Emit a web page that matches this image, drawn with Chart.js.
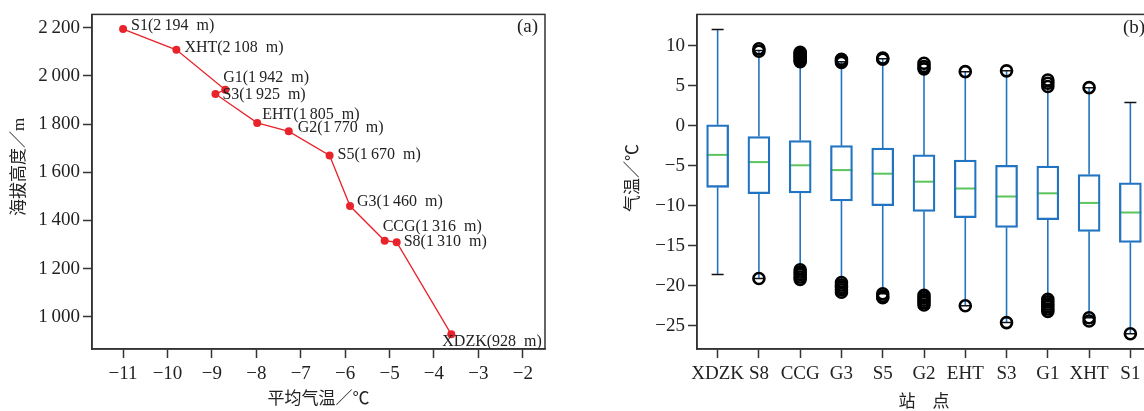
<!DOCTYPE html>
<html lang="zh">
<head>
<meta charset="utf-8">
<title>平均气温与海拔 / 各站点气温箱线图</title>
<script src="https://cdn.jsdelivr.net/npm/chart.js@4.4.1/dist/chart.umd.min.js"></script>
<style>
  html, body { margin: 0; padding: 0; background: #fff; overflow: hidden; }
  #wrap { position: relative; width: 1144px; height: 411px; overflow: hidden; }
  #chartA { position: absolute; left: 0; top: 0; width: 560px; height: 411px; }
  #chartB { position: absolute; left: 600px; top: 0; width: 560px; height: 411px; }
</style>
</head>
<body>
<div id="wrap">
  <canvas id="chartA" width="560" height="411"></canvas>
  <canvas id="chartB" width="560" height="411"></canvas>
</div>
<script>
// (a) mean temperature vs altitude
const stationsA = ['S1', 'XHT', 'G1', 'S3', 'EHT', 'G2', 'S5', 'G3', 'CCG', 'S8', 'XDZK'];
const meanTemp = [-11.0, -9.8, -8.7, -8.92, -7.98, -7.27, -6.35, -5.89, -5.11, -4.84, -3.61];
const altitude = [2194, 2108, 1942, 1925, 1805, 1770, 1670, 1460, 1316, 1310, 928];
const xTicksA = [-11, -10, -9, -8, -7, -6, -5, -4, -3, -2];
const yTicksA = [1000, 1200, 1400, 1600, 1800, 2000, 2200];

// (b) temperature box plots per station
const stationsB = ['XDZK', 'S8', 'CCG', 'G3', 'S5', 'G2', 'EHT', 'S3', 'G1', 'XHT', 'S1'];
const q1 = [-7.7, -8.5, -8.4, -9.4, -10.0, -10.7, -11.5, -12.7, -11.75, -13.2, -14.6];
const median = [-3.65, -4.55, -4.95, -5.55, -6.0, -7.0, -7.85, -8.85, -8.45, -9.65, -10.85];
const q3 = [0.1, -1.35, -1.85, -2.5, -2.8, -3.65, -4.3, -4.95, -5.05, -6.1, -7.15];
const whiskerHigh = [12.0, 9.4, 8.0, 8.0, 8.35, 7.1, 6.75, 6.85, 4.9, 4.75, 2.9];
const whiskerLow = [-18.6, -19.1, -17.9, -19.6, -21.0, -21.1, -22.5, -24.6, -21.6, -24.0, -26.0];
const outliersHigh = [
  [], [9.3, 9.6], [8.0, 8.2, 8.4, 8.6, 8.8, 9.0, 9.15], [7.9, 8.1, 8.3], [8.3, 8.45],
  [7.1, 7.4, 7.8], [6.75], [6.85], [4.9, 5.3, 5.7], [4.75], []
];
const outliersLow = [
  [], [-19.1], [-18.0, -18.3, -18.6, -18.9, -19.2], [-19.6, -19.9, -20.2, -20.5, -20.8], [-21.0, -21.3, -21.5],
  [-21.2, -21.5, -21.8, -22.1, -22.4], [-22.5], [-24.6], [-21.7, -22.0, -22.3, -22.6, -22.9, -23.2],
  [-24.0, -24.4], [-26.0]
];
const yTicksB = [-25, -20, -15, -10, -5, 0, 5, 10];

const serif = '"Liberation Serif", "Noto Sans CJK SC", serif';
const cjk = '"Liberation Serif", "Noto Sans CJK SC", sans-serif';
const axisColor = '#333';
const textColor = '#222';

function fmt(v) {
  const s = Math.abs(v).toString().replace(/\B(?=(\d{3})+(?!\d))/g, '\u2009');
  return (v < 0 ? '\u2212' : '') + s;
}

function axisTitle(ctx, text, x, y, rotate) {
  ctx.save();
  ctx.translate(x, y);
  if (rotate) ctx.rotate(-Math.PI / 2);
  ctx.font = '17px ' + cjk;
  ctx.fillStyle = textColor;
  ctx.textAlign = 'center';
  ctx.textBaseline = 'middle';
  ctx.fillText(text, 0, 0);
  ctx.restore();
}

function baseScale(ticksArr, fixedSize, horizontal) {
  return {
    afterBuildTicks: s => { s.ticks = ticksArr.map(v => ({ value: v })); },
    afterFit: s => { if (horizontal) s.height = fixedSize; else s.width = fixedSize; },
    grid: { drawOnChartArea: false, drawTicks: true, tickLength: 9, tickColor: axisColor, tickWidth: 1.5 },
    border: { color: axisColor, width: 1.5 },
    ticks: {
      font: { family: serif, size: 19 },
      color: textColor,
      padding: horizontal ? 5 : 3,
      maxRotation: 0,
      autoSkip: false,
      callback: v => fmt(v)
    }
  };
}

// label offsets next to each point in (a)
const labelOffsets = [[8, -3], [8, -2], [-2, -12], [7, 1], [5, -8], [9, -4], [8, -1], [7, -4], [-2, -14], [7, 0], [-9, 8]];

const pointLabels = {
  id: 'pointLabels',
  afterDatasetsDraw(chart) {
    const ctx = chart.ctx;
    const meta = chart.getDatasetMeta(0);
    ctx.save();
    ctx.font = '16px ' + serif;
    ctx.fillStyle = textColor;
    ctx.textBaseline = 'middle';
    meta.data.forEach((pt, i) => {
      const [dx, dy] = labelOffsets[i];
      ctx.fillText(`${stationsA[i]}(${fmt(altitude[i])}\u2002m)`, pt.x + dx, pt.y + dy);
    });
    ctx.restore();
  }
};

const frameA = {
  id: 'frameA',
  afterDraw(chart) {
    const { ctx, chartArea: a } = chart;
    ctx.save();
    ctx.strokeStyle = axisColor;
    ctx.lineWidth = 1.5;
    ctx.strokeRect(a.left, a.top, a.right - a.left, a.bottom - a.top);
    ctx.font = '19px ' + serif;
    ctx.fillStyle = textColor;
    ctx.textAlign = 'right';
    ctx.textBaseline = 'middle';
    ctx.fillText('(a)', a.right - 7, a.top + 13);
    ctx.restore();
    axisTitle(ctx, '平均气温／℃', (a.left + a.right) / 2, 400, false);
    axisTitle(ctx, '海拔高度／m', 20, 167, true);
  }
};

new Chart(document.getElementById('chartA'), {
  type: 'scatter',
  data: {
    datasets: [{
      data: altitude.map((h, i) => ({ x: meanTemp[i], y: h })),
      showLine: true,
      borderColor: '#e8232a',
      borderWidth: 1.3,
      pointRadius: 4,
      pointBackgroundColor: '#e8232a',
      pointBorderWidth: 0
    }]
  },
  options: {
    responsive: false,
    animation: false,
    devicePixelRatio: 1,
    layout: { padding: { left: 0, top: 13, right: 15, bottom: 0 } },
    plugins: { legend: { display: false }, tooltip: { enabled: false } },
    scales: {
      x: Object.assign(baseScale(xTicksA, 62, true), { type: 'linear', min: -11.7, max: -1.5 }),
      y: Object.assign(baseScale(yTicksA, 92, false), { type: 'linear', min: 867, max: 2255 })
    }
  },
  plugins: [pointLabels, frameA]
});

// whiskers, caps and medians for (b)
const boxParts = {
  id: 'boxParts',
  beforeDatasetsDraw(chart) {
    const { ctx, scales: { x, y } } = chart;
    const half = 11;
    const capHalf = 6;
    ctx.save();
    stationsB.forEach((s, i) => {
      const cx = x.getPixelForValue(i);
      ctx.strokeStyle = '#2274c2';
      ctx.lineWidth = 1.6;
      ctx.beginPath();
      ctx.moveTo(cx, y.getPixelForValue(q3[i]));
      ctx.lineTo(cx, y.getPixelForValue(whiskerHigh[i]));
      ctx.moveTo(cx, y.getPixelForValue(q1[i]));
      ctx.lineTo(cx, y.getPixelForValue(whiskerLow[i]));
      ctx.stroke();

      ctx.strokeStyle = '#111';
      ctx.lineWidth = 1.5;
      ctx.beginPath();
      [whiskerHigh[i], whiskerLow[i]].forEach(v => {
        const py = y.getPixelForValue(v);
        ctx.moveTo(cx - capHalf, py);
        ctx.lineTo(cx + capHalf, py);
      });
      ctx.stroke();

      ctx.strokeStyle = '#5cc45c';
      ctx.lineWidth = 2;
      ctx.beginPath();
      const my = y.getPixelForValue(median[i]);
      ctx.moveTo(cx - half, my);
      ctx.lineTo(cx + half, my);
      ctx.stroke();
    });
    ctx.restore();
  }
};

const frameB = {
  id: 'frameB',
  afterDraw(chart) {
    const { ctx, chartArea: a } = chart;
    ctx.save();
    ctx.strokeStyle = axisColor;
    ctx.lineWidth = 1.5;
    ctx.strokeRect(a.left, a.top, a.right - a.left, a.bottom - a.top);
    ctx.font = '19px ' + serif;
    ctx.fillStyle = textColor;
    ctx.textAlign = 'left';
    ctx.textBaseline = 'middle';
    ctx.fillText('(b)', a.right - 28, a.top + 14);
    ctx.restore();
    axisTitle(ctx, '站\u3000点', (a.left + a.right) / 2, 403, false);
    axisTitle(ctx, '气温／℃', 34, 178, true);
  }
};

const outlierPoints = stationsB.flatMap((s, i) =>
  outliersHigh[i].concat(outliersLow[i]).map(v => ({ x: s, y: v })));

const xB = baseScale([], 62, true);
delete xB.afterBuildTicks;
xB.grid.offset = false;
xB.ticks.callback = function (v) { return this.getLabelForValue(v); };

new Chart(document.getElementById('chartB'), {
  type: 'bar',
  data: {
    labels: stationsB,
    datasets: [
      {
        type: 'bar',
        data: stationsB.map((s, i) => [q1[i], q3[i]]),
        backgroundColor: 'rgba(0,0,0,0)',
        borderColor: '#2274c2',
        borderWidth: 1.6,
        borderSkipped: false,
        barThickness: 22,
        order: 2
      },
      {
        type: 'scatter',
        data: outlierPoints,
        pointStyle: 'circle',
        pointRadius: 5.5,
        pointBorderWidth: 2.6,
        pointBorderColor: '#000',
        pointBackgroundColor: 'rgba(0,0,0,0)',
        order: 1
      }
    ]
  },
  options: {
    responsive: false,
    animation: false,
    devicePixelRatio: 1,
    layout: { padding: { left: 0, top: 13, right: 9, bottom: 0 } },
    plugins: { legend: { display: false }, tooltip: { enabled: false } },
    scales: {
      x: Object.assign(xB, { type: 'category', offset: true }),
      y: Object.assign(baseScale(yTicksB, 97, false), { type: 'linear', min: -27.9, max: 13.9 })
    }
  },
  plugins: [boxParts, frameB]
});
</script>
</body>
</html>
